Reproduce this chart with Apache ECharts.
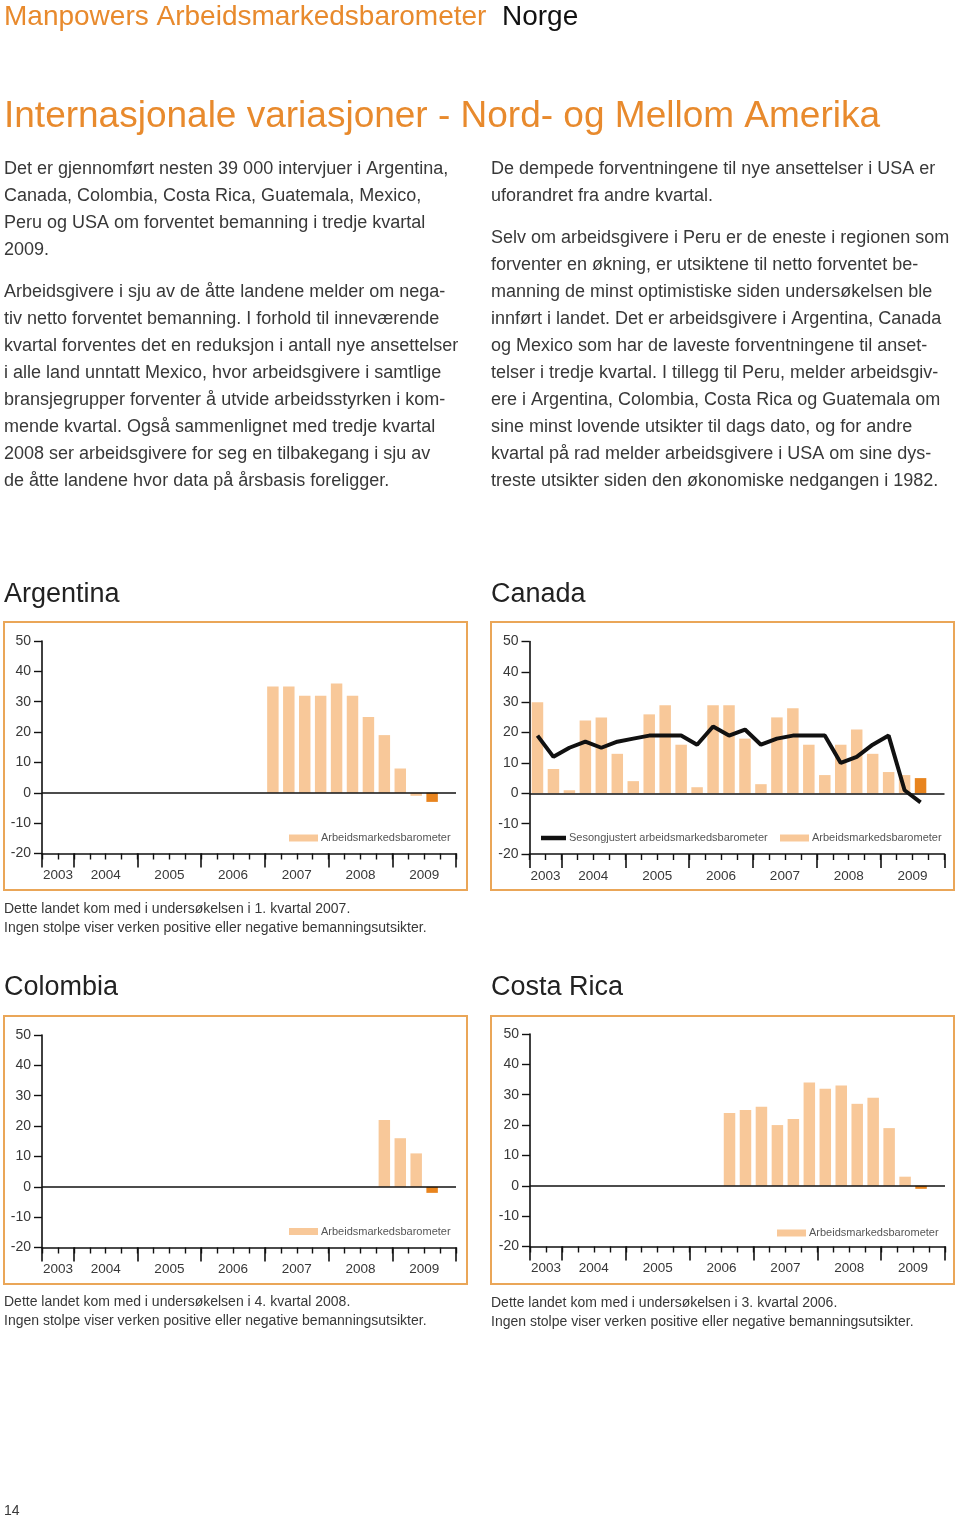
<!DOCTYPE html>
<html>
<head>
<meta charset="utf-8">
<script src="https://cdn.jsdelivr.net/npm/echarts@6/dist/echarts.min.js"></script>
<style>
html,body{margin:0;padding:0;background:#fff;}
#c{width:960px;height:1517px;}
</style>
</head>
<body>
<div id="c"></div>
<script>
// ---- DATA ----
const quarters = ['2003 K3','2003 K4',
  '2004 K1','2004 K2','2004 K3','2004 K4',
  '2005 K1','2005 K2','2005 K3','2005 K4',
  '2006 K1','2006 K2','2006 K3','2006 K4',
  '2007 K1','2007 K2','2007 K3','2007 K4',
  '2008 K1','2008 K2','2008 K3','2008 K4',
  '2009 K1','2009 K2','2009 K3','2009 K4'];
const yearLabels = ['2003','2004','2005','2006','2007','2008','2009'];
const yearLabelSlots = [1,4,8,12,16,20,24];
const yearBoundarySlots = [0,2,6,10,14,18,22,26];
const currentQuarter = '2009 K3';
const yTicks = [-20,-10,0,10,20,30,40,50];

const argentina = [null,null,null,null,null,null,null,null,null,null,null,null,null,null,
  35,35,32,32,36,32,25,19,8,-1,-3,null];
const canada = [30,8,1,24,25,13,4,26,29,16,2,29,29,18,3,25,28,16,6,16,21,13,7,6,5,null];
const canadaSA = [19,12,15,17,15,17,18,19,19,19,16,22,19,21,16,18,19,19,19,10,12,16,19,1,-3,null];
const colombia = [null,null,null,null,null,null,null,null,null,null,null,null,null,null,
  null,null,null,null,null,null,null,22,16,11,-2,null];
const costaRica = [null,null,null,null,null,null,null,null,null,null,null,null,
  24,25,26,20,22,34,32,33,27,29,19,3,-1,null];

const barName = 'Arbeidsmarkedsbarometer';
const lineName = 'Sesongjustert arbeidsmarkedsbarometer';

// ---- STYLE ----
const ORANGE = '#E88A2D';
const FRAME = '#EAA658';
const BAR_LIGHT = '#F8C899';
const BAR_DARK = '#E8841E';
const TXT = '#383838';
const FONT = '"Liberation Sans", Arial, Helvetica, sans-serif';

const panels = [
  {name:'Argentina', data:argentina, grid:{left:42, top:641, width:414, height:212.5},
   frame:[4,622,463,268], title:[4,595],
   notes:['Dette landet kom med i undersøkelsen i 1. kvartal 2007.','Ingen stolpe viser verken positive eller negative bemanningsutsikter.'],
   noteY:900, legendLeft:289, legendTop:832.5},
  {name:'Canada', data:canada, line:canadaSA, grid:{left:529.5, top:641.5, width:415, height:212.5},
   frame:[491,622,463,268], title:[491,595], notes:null, legendLeft:780, legendTop:832.5},
  {name:'Colombia', data:colombia, grid:{left:42, top:1035, width:414, height:212.5},
   frame:[4,1016,463,268], title:[4,988],
   notes:['Dette landet kom med i undersøkelsen i 4. kvartal 2008.','Ingen stolpe viser verken positive eller negative bemanningsutsikter.'],
   noteY:1293, legendLeft:289, legendTop:1226},
  {name:'Costa Rica', data:costaRica, grid:{left:530, top:1034, width:415, height:212.5},
   frame:[491,1016,463,268], title:[491,988],
   notes:['Dette landet kom med i undersøkelsen i 3. kvartal 2006.','Ingen stolpe viser verken positive eller negative bemanningsutsikter.'],
   noteY:1294, legendLeft:777, legendTop:1227.5}
];

const grids = [], xAxes = [], yAxes = [], series = [], legends = [], graphics = [];

panels.forEach((p, i) => {
  grids.push(Object.assign({containLabel:false}, p.grid));
  // quarter category axis (minor ticks + axis line)
  xAxes.push({
    type:'category', gridIndex:i, data:quarters, boundaryGap:true, position:'bottom',
    axisLine:{show:true, onZero:false, lineStyle:{color:'#111', width:1.6}},
    axisTick:{show:true, interval:0, length:6, lineStyle:{color:'#111', width:1.4}},
    axisLabel:{show:false}, splitLine:{show:false}
  });
  // year overlay axis (major ticks + year labels)
  xAxes.push({
    type:'value', gridIndex:i, min:0, max:quarters.length, position:'bottom',
    axisLine:{show:false, onZero:false}, splitLine:{show:false},
    axisTick:{show:true, length:14, customValues:yearBoundarySlots, lineStyle:{color:'#111', width:1.6}},
    axisLabel:{show:true, customValues:yearLabelSlots, margin:15, fontSize:13.5, color:TXT, fontFamily:FONT,
      formatter:(v)=>{ const k = yearLabelSlots.indexOf(v); return k>=0 ? yearLabels[k] : ''; }}
  });
  yAxes.push({
    type:'value', gridIndex:i, min:yTicks[0], max:yTicks[yTicks.length-1], interval:10,
    axisLine:{show:true, onZero:false, lineStyle:{color:'#111', width:1.6}},
    axisTick:{show:true, length:8, lineStyle:{color:'#111', width:1.4}},
    axisLabel:{show:true, margin:11, fontSize:14, color:TXT, fontFamily:FONT},
    splitLine:{show:false}
  });
  series.push({
    type:'bar', name:barName, xAxisIndex:2*i, yAxisIndex:i, barWidth:'72%',
    itemStyle:{color:BAR_LIGHT},
    data:p.data.map((v,k)=> v==null ? null : (quarters[k]===currentQuarter ? {value:v, itemStyle:{color:BAR_DARK}} : v)),
    markLine:{silent:true, symbol:['none','none'], label:{show:false},
      lineStyle:{color:'#111', type:'solid', width:1.6}, data:[{yAxis:0}]},
    animation:false, z:2
  });
  if (p.line) {
    series.push({
      type:'line', name:lineName, xAxisIndex:2*i, yAxisIndex:i, data:p.line,
      symbol:'none', lineStyle:{color:'#111', width:4}, itemStyle:{color:'#111'},
      animation:false, z:5
    });
    legends.push({
      data:[{name:lineName, icon:'rect'}], left:541, top:p.legendTop, padding:0, orient:'horizontal',
      itemWidth:25, itemHeight:4.5, selectedMode:false,
      textStyle:{fontSize:11, color:'#555', fontFamily:FONT, padding:[0,0,0,-2]}
    });
  }
  legends.push({
    data:[{name:barName, icon:'rect'}], left:p.legendLeft, top:p.legendTop, padding:0,
    itemWidth:29, itemHeight:7, selectedMode:false,
    textStyle:{fontSize:11, color:'#555', fontFamily:FONT, padding:[0,0,0,-2]}
  });
  // frame
  graphics.push({type:'rect', shape:{x:p.frame[0], y:p.frame[1], width:p.frame[2], height:p.frame[3]},
    style:{fill:'none', stroke:FRAME, lineWidth:2}, silent:true, z:0});
  // title
  graphics.push({type:'text', x:p.title[0], y:p.title[1],
    style:{text:p.name, fill:'#222', font:'27px '+FONT, textVerticalAlign:'middle', verticalAlign:'middle'}});
  if (p.notes) {
    graphics.push({type:'text', x:p.frame[0], y:p.noteY,
      style:{text:p.notes.join('\n'), fill:TXT, font:'14px '+FONT, lineHeight:19, textVerticalAlign:'top', verticalAlign:'top'}});
  }
});

// page texts
function para(x, yTop, lines){
  return {type:'text', x:x, y:yTop, style:{text:lines.join('\n'), fill:TXT, font:'18px '+FONT,
    lineHeight:27, textVerticalAlign:'top', verticalAlign:'top'}};
}
graphics.push({type:'text', x:4, y:17, style:{text:'Manpowers Arbeidsmarkedsbarometer', fill:ORANGE,
  font:'28px '+FONT, textVerticalAlign:'middle', verticalAlign:'middle'}});
graphics.push({type:'text', x:502, y:17, style:{text:'Norge', fill:'#111',
  font:'28px '+FONT, textVerticalAlign:'middle', verticalAlign:'middle'}});
graphics.push({type:'text', x:4, y:117, style:{text:'Internasjonale variasjoner - Nord- og Mellom Amerika', fill:ORANGE,
  font:'37px '+FONT, textVerticalAlign:'middle', verticalAlign:'middle'}});
graphics.push(para(4, 156, [
  'Det er gjennomført nesten 39 000 intervjuer i Argentina,',
  'Canada, Colombia, Costa Rica, Guatemala, Mexico,',
  'Peru og USA om forventet bemanning i tredje kvartal',
  '2009.']));
graphics.push(para(4, 279, [
  'Arbeidsgivere i sju av de åtte landene melder om nega-',
  'tiv netto forventet bemanning. I forhold til inneværende',
  'kvartal forventes det en reduksjon i antall nye ansettelser',
  'i alle land unntatt Mexico, hvor arbeidsgivere i samtlige',
  'bransjegrupper forventer å utvide arbeidsstyrken i kom-',
  'mende kvartal. Også sammenlignet med tredje kvartal',
  '2008 ser arbeidsgivere for seg en tilbakegang i sju av',
  'de åtte landene hvor data på årsbasis foreligger.']));
graphics.push(para(491, 156, [
  'De dempede forventningene til nye ansettelser i USA er',
  'uforandret fra andre kvartal.']));
graphics.push(para(491, 225, [
  'Selv om arbeidsgivere i Peru er de eneste i regionen som',
  'forventer en økning, er utsiktene til netto forventet be-',
  'manning de minst optimistiske siden undersøkelsen ble',
  'innført i landet. Det er arbeidsgivere i Argentina, Canada',
  'og Mexico som har de laveste forventningene til anset-',
  'telser i tredje kvartal. I tillegg til Peru, melder arbeidsgiv-',
  'ere i Argentina, Colombia, Costa Rica og Guatemala om',
  'sine minst lovende utsikter til dags dato, og for andre',
  'kvartal på rad melder arbeidsgivere i USA om sine dys-',
  'treste utsikter siden den økonomiske nedgangen i 1982.']));
graphics.push({type:'text', x:4, y:1511, style:{text:'14', fill:TXT, font:'14px '+FONT,
  textVerticalAlign:'middle', verticalAlign:'middle'}});

const chart = echarts.init(document.getElementById('c'), null, {renderer:'canvas'});
chart.setOption({
  animation:false,
  backgroundColor:'#fff',
  grid:grids, xAxis:xAxes, yAxis:yAxes, series:series, legend:legends,
  graphic:{elements:graphics}
});
</script>
</body>
</html>
